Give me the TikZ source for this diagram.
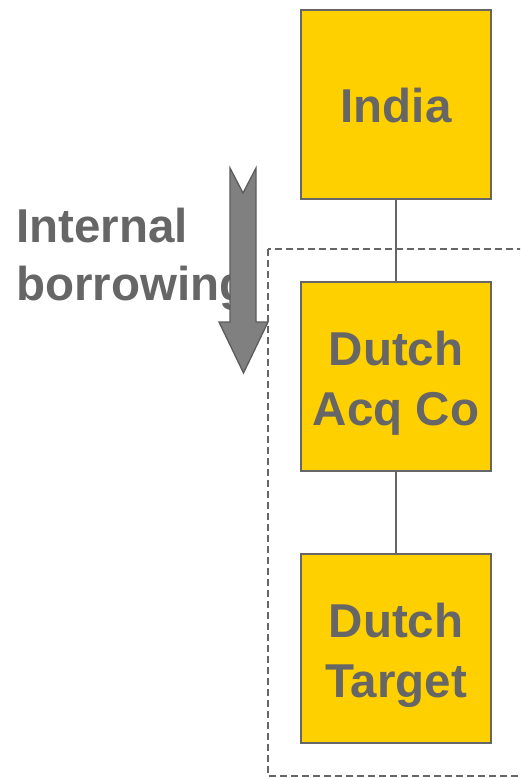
\documentclass[tikz,border=0pt]{standalone}
\usepackage{fontspec}
\setmainfont{Liberation Sans}
\definecolor{boxyellow}{HTML}{FFD000}
\definecolor{textgray}{HTML}{666666}
\definecolor{arrowgray}{HTML}{808080}
\begin{document}
\begin{tikzpicture}[x=1pt,y=-1pt,
  entity/.style={draw=textgray, line width=2.2pt, fill=boxyellow, minimum width=190pt, minimum height=189pt, inner sep=0pt},
  boxtext/.style={align=center, text=textgray, inner sep=0pt, font=\bfseries\fontsize{47.5}{60}\selectfont},
  link/.style={draw=textgray, line width=2.2pt},
  sidetext/.style={text=textgray, font=\bfseries\fontsize{47.5}{57}\selectfont, inner sep=0pt, anchor=base west},
  groupbox/.style={draw=textgray, line width=2pt, dash pattern=on 7pt off 4pt}
]
\clip (0,0) rectangle (520,778);
\useasboundingbox (0,0) rectangle (520,778);
\node[entity] (india) at (396,104.5) {};
\node[entity] (acq) at (396,376.5) {};
\node[entity] (target) at (396,648.5) {};
\node[boxtext] (indiat) at (396,105.5) {India};
\node[boxtext] (acqt) at (396,383) {Dutch\\Acq Co};
\node[boxtext] (targett) at (396,655) {Dutch\\Target};
\draw[link] (india.south) -- (acq.north);
\draw[link] (acq.south) -- (target.north);
\node[sidetext] (internal) at (16,242) {Internal};
\node[sidetext] (borrowing) at (16,300) {borrowing};
\draw[draw=textgray!90!black, line width=1.3pt, fill=arrowgray, line join=miter]
  (230,168) -- (243,193) -- (256,168) -- (256,322) -- (268,322) -- (243.5,373) -- (219,322) -- (230,322) -- cycle;
\coordinate (gtl) at (268,249);
\coordinate (gbr) at (540,776);
\draw[groupbox] (gtl) rectangle (gbr);
\end{tikzpicture}
\end{document}
